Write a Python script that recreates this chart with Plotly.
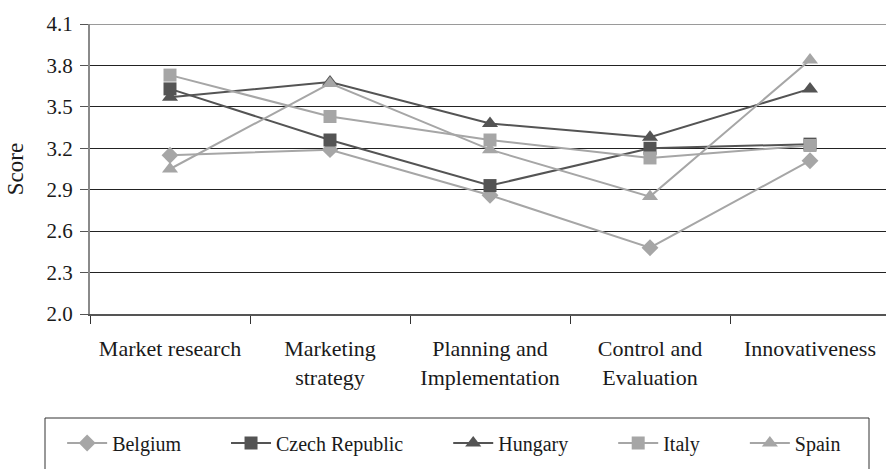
import plotly.graph_objects as go

categories = ["Market research", "Marketing<br>strategy", "Planning and<br>Implementation",
              "Control and<br>Evaluation", "Innovativeness"]
belgium = [3.15, 3.19, 2.86, 2.48, 3.11]
czech = [3.63, 3.26, 2.93, 3.20, 3.23]
hungary = [3.57, 3.68, 3.38, 3.28, 3.63]
italy = [3.73, 3.43, 3.26, 3.13, 3.22]
spain = [3.05, 3.67, 3.19, 2.85, 3.84]
y_ticks = [2.0, 2.3, 2.6, 2.9, 3.2, 3.5, 3.8, 4.1]

LIGHT = "#a6a6a6"
DARK = "#545454"

series = [
    ("Belgium", belgium, LIGHT, "diamond", 13),
    ("Czech Republic", czech, DARK, "square", 13),
    ("Hungary", hungary, DARK, "triangle-up", 14),
    ("Italy", italy, LIGHT, "square", 13),
    ("Spain", spain, LIGHT, "triangle-up", 14),
]

PAD = "\u00a0" * 8

fig = go.Figure()
for name, vals, col, sym, sz in series:
    fig.add_trace(go.Scatter(
        x=categories, y=vals, name=name + PAD, mode="lines+markers",
        line=dict(color=col, width=2),
        marker=dict(symbol=sym, size=sz, color=col),
        cliponaxis=False,
    ))

font = "Times New Roman, Liberation Serif, serif"
fig.update_layout(
    width=886, height=469,
    margin=dict(l=90, r=0, t=24, b=155, autoexpand=False),
    paper_bgcolor="white", plot_bgcolor="white",
    font=dict(family=font, size=20, color="#1a1a1a"),
    showlegend=True,
    legend=dict(orientation="h", x=-0.035, xanchor="left", y=-0.445, yanchor="middle",
                font=dict(size=20, family=font), itemwidth=40,
                bgcolor="rgba(0,0,0,0)", traceorder="normal"),
    xaxis=dict(
        type="category", range=[-0.5, 4.475],
        tickson="boundaries", ticks="outside", ticklen=8, tickcolor="#333",
        showgrid=False, showline=True, linecolor="#555", linewidth=2,
        ticklabelstandoff=14, tickfont=dict(size=22, family=font),
    ),
    yaxis=dict(
        range=[2.0, 4.1], tickvals=y_ticks, ticktext=[f"{v:.1f}" for v in y_ticks],
        ticks="outside", ticklen=8, tickcolor="#555",
        showgrid=True, gridcolor="#222", gridwidth=1,
        showline=True, linecolor="#8a8a8a", linewidth=2,
        zeroline=False, tickfont=dict(size=21, family=font), ticklabelstandoff=3,
        title=dict(text="Score", font=dict(size=23, family=font), standoff=16),
    ),
    shapes=[
        dict(type="line", xref="paper", yref="y", x0=0, x1=1, y0=4.1, y1=4.1,
             line=dict(color="#9a9a9a", width=2)),
        dict(type="rect", xref="paper", yref="paper",
             x0=(45 - 90) / 796, x1=(869 - 90) / 796,
             y0=(314 - 418) / 290, y1=(314 - 480) / 290,
             line=dict(color="#333", width=1), fillcolor="rgba(0,0,0,0)"),
    ],
)

fig.write_html("out.html", config={"displayModeBar": False},
               post_script="document.body.style.margin='0';document.body.style.overflow='hidden';")
